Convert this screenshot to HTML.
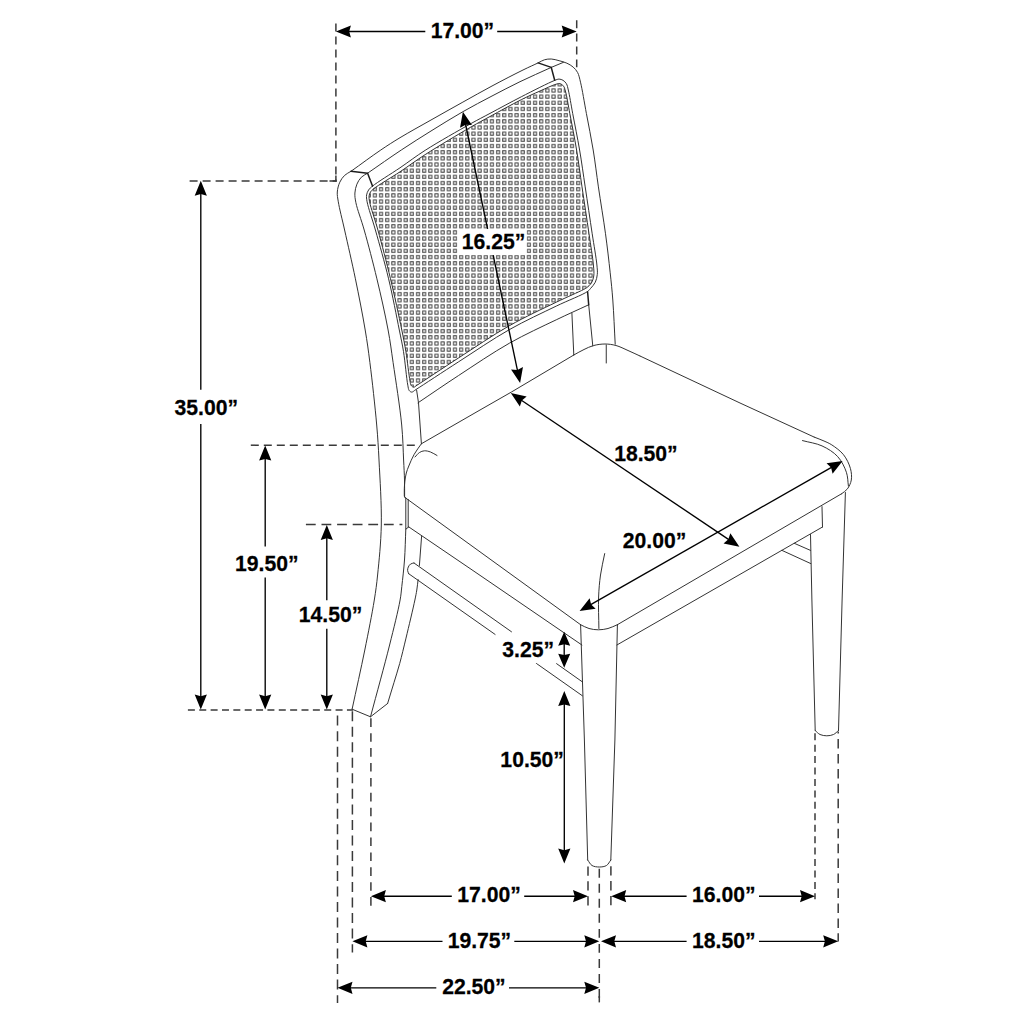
<!DOCTYPE html>
<html><head><meta charset="utf-8"><title>Chair dimensions</title>
<style>
html,body{margin:0;padding:0;background:#fff;}
body{width:1024px;height:1024px;overflow:hidden;font-family:"Liberation Sans",sans-serif;}
svg{display:block;}
svg text{font-family:"Liberation Sans",sans-serif;font-weight:bold;font-size:22px;fill:#000;stroke:#000;stroke-width:0.25px;}
</style></head><body>
<svg width="1024" height="1024" viewBox="0 0 1024 1024">
<defs>
<pattern id="cane" x="371.82" y="186.11" width="6.16" height="6.17" patternUnits="userSpaceOnUse">
<rect x="1.56" y="1.57" width="3.04" height="3.04" fill="none" stroke="#333" stroke-width="0.95"/>
</pattern>
<clipPath id="pc"><path d="M373.9 188.6 C378.42 184.95 391.41 177.49 400 171.8 C408.51 166.16 415.45 160.86 425.2 154.6 C438.13 146.3 459.08 133.83 471.1 126.9 C478.72 122.51 482.9 120.36 490 116.5 C499.1 111.55 512.1 104.28 521.25 99.7 C528.24 96.21 533.97 93.67 540 91 C545.55 88.54 552.51 85.17 556.1 84.2 C557.8 83.74 558.79 83.41 560 83.7 C561.26 84 562.62 84.98 563.5 86.1 C564.48 87.34 564.74 88.73 565.4 91 C566.77 95.74 568.19 105.09 569.8 113.5 C571.84 124.2 574.57 137.78 576.6 150 C578.64 162.25 580.07 173.87 582 186.9 C584.17 201.59 586.96 219.71 589 233.75 C590.66 245.21 592.73 257.23 593.4 265 C593.79 269.59 594.22 272.78 593.75 276 C593.36 278.64 592.63 281.02 591.4 283 C590.23 284.88 588.17 286.57 586.7 287.7 C585.62 288.53 585.17 288.68 583.6 289.5 C579.03 291.88 566.54 297.23 556.25 302.2 C542.68 308.75 525.11 316.81 509.4 325.7 C492.57 335.22 474.65 347.55 458.6 357.9 C444 367.32 423.11 381.35 417 385.2 C415.3 386.27 414.72 387.23 413.7 387.2 C412.8 387.18 411.81 386.35 411.2 385.5 C410.45 384.44 410.44 383.18 410 381 C408.89 375.51 407.39 360.63 405.9 351.6 C404.62 343.83 403.59 338.71 401.8 330 C399.04 316.54 394.53 295.63 390.5 278.8 C386.55 262.3 381.77 244.02 377.9 230 C374.94 219.29 370.71 207.74 369.6 201.8 C369.1 199.14 368.87 197.64 369.1 195.9 C369.29 194.44 369.75 193.18 370.5 192 C371.31 190.73 372.12 190.04 373.9 188.6Z"/></clipPath>
</defs>
<rect width="1024" height="1024" fill="#fff"/>
<g clip-path="url(#pc)"><rect x="340" y="60" width="280" height="350" fill="url(#cane)"/></g>
<g fill="none" stroke="#2e2e2e" stroke-width="0.98" stroke-linecap="round" stroke-linejoin="round">
<path d="M351 171.3 C348.87 172.67 346.44 173.64 344.6 175.4 C342.68 177.24 341 179.6 339.8 182.2 C338.48 185.06 337.54 188.71 337.3 192 C337.06 195.25 337.64 197.71 338.3 201.8 C339.43 208.8 342.22 219.32 344.6 230 C347.72 244.05 352 262.31 355.4 278.8 C358.87 295.64 362.65 314.84 365.2 330 C367.22 342.03 368.3 349.89 369.9 362.5 C372.11 379.94 375.14 407.15 376.7 425 C377.86 438.33 378.32 446.54 379 460 C379.93 478.33 381.69 504.76 381.3 525 C380.96 542.77 379.02 561.21 377.6 575 C376.59 584.78 375.87 590.26 374.3 600 C372.07 613.83 368.31 632.65 364.8 650 C360.97 668.92 356.33 689.47 352.1 709.2"/>
<path d="M351 171.3 C360.93 164.2 371.88 156.04 380.8 150 C387.83 145.24 392.77 142.07 400 137.7 C409.04 132.23 420.58 125.9 431 120 C441.55 114.03 452.5 107.89 462.9 102.1 C472.81 96.58 482.11 91.29 492 86 C502.13 80.58 514.47 74.2 523 70 C528.9 67.09 534.16 64.8 538.1 62.9 C540.66 61.67 542.2 60.45 544.4 59.8 C546.58 59.16 548.9 58.89 551.25 59 C553.79 59.12 556.5 60 559.1 60.7 C561.72 61.4 564.5 62.09 566.9 63.2 C569.18 64.25 571.4 65.52 573.2 67.1 C574.95 68.63 576.43 70.3 577.6 72.5 C579 75.15 579.48 78.01 580.5 82.2 C582.31 89.63 584.37 102.66 586.4 113.5 C588.59 125.2 591.2 137.78 593.2 150 C595.2 162.24 596.49 173.87 598.4 186.9 C600.55 201.59 603.47 218.83 605.5 233.75 C607.35 247.34 608.92 260.95 610.2 272.8 C611.27 282.68 612.04 289.83 612.8 300 C613.77 312.95 614.4 329.47 615.2 344.2"/>
<path d="M367.6 173.2 C378.83 165.47 390.36 157.26 401.3 150 C411.45 143.26 420.88 137.3 431 131 C441.4 124.53 452.44 117.68 462.9 111.7 C472.75 106.07 482.37 101.06 492 96 C501.4 91.07 510.36 86.37 520 81.7 C530.08 76.82 540.83 72.17 551.25 67.4"/>
<path d="M551.25 67.4 L563.5 62.3"/>
<path d="M367.6 173.2 C365.48 174.57 363.01 175.52 361.25 177.3 C359.42 179.15 357.95 181.66 356.9 184.2 C355.79 186.87 355.08 189.98 354.9 193 C354.71 196.14 355.09 198.7 355.9 202.7 C357.28 209.55 361.25 219.55 364.2 230 C368.12 243.89 372.95 262.3 376.9 278.8 C380.93 295.62 385.28 314.82 388.1 330 C390.34 342.02 391.26 349.9 393.1 362.5 C395.64 379.95 399.99 407.14 401.7 425 C402.98 438.32 403.1 449.95 403.6 460 C403.98 467.59 404.34 473.6 404.5 480 C404.65 485.9 404.57 491.33 404.6 497"/>
<path d="M405.8 529.2 C405.37 539.47 405.21 550.13 404.5 560 C403.84 569.18 402.64 579.15 401.8 586.5 C401.2 591.76 401.14 594.22 400.1 600 C398.19 610.65 393.77 628.29 389.6 645 C384.31 666.19 376.87 692.87 370.5 716.8"/>
<path d="M372.5 186.1 C377.42 182.07 391.06 173.88 400 167.8 C408.61 161.94 415.41 156.55 425.2 150.3 C438.09 142.08 459.09 130.21 471.1 123.5 C478.73 119.24 482.91 117.18 490 113.4 C499.11 108.55 510.61 102.23 521.25 96.8 C532.17 91.23 548.71 82.73 554.7 80.4 C556.8 79.58 557.68 79.09 559.1 79.1 C560.44 79.11 561.82 79.59 563 80.3 C564.28 81.07 565.54 82.26 566.4 83.7 C567.41 85.38 567.62 87.21 568.3 90 C569.6 95.32 571.06 104.81 572.7 113.5 C574.74 124.33 577.52 137.78 579.6 150 C581.69 162.25 583.24 173.87 585.2 186.9 C587.41 201.58 590.1 219.71 592.2 233.75 C593.92 245.22 596.19 257.61 596.9 265 C597.29 269.03 597.61 271.43 597.3 274.4 C597.01 277.14 596.43 279.85 595.3 282.2 C594.19 284.51 592.06 286.73 590.6 288.4 C589.51 289.66 589.24 290.28 587.5 291.5 C582.63 294.92 567.68 300.57 556.25 306.1 C542.17 312.92 525.11 320.71 509.4 329.6 C492.57 339.12 474.76 351.43 458.6 361.8 C443.75 371.34 422.86 385.19 416 389.5 C413.84 390.85 412.94 392.12 411.7 392.1 C410.75 392.09 409.83 391.36 409.2 390.5 C408.35 389.33 408.3 387.75 407.8 385.2 C406.56 378.86 405.1 361.54 403.5 351.6 C402.21 343.58 401.06 338.72 399.3 330 C396.59 316.55 392.63 295.6 388.6 278.8 C384.64 262.28 379.36 244.03 375.4 230 C372.38 219.3 368.24 208.06 367.1 201.8 C366.55 198.76 366.27 196.97 366.6 194.9 C366.89 193.09 367.63 191.46 368.6 190 C369.59 188.51 370.49 187.75 372.5 186.1Z"/>
<path d="M373.9 188.6 C378.42 184.95 391.41 177.49 400 171.8 C408.51 166.16 415.45 160.86 425.2 154.6 C438.13 146.3 459.08 133.83 471.1 126.9 C478.72 122.51 482.9 120.36 490 116.5 C499.1 111.55 512.1 104.28 521.25 99.7 C528.24 96.21 533.97 93.67 540 91 C545.55 88.54 552.51 85.17 556.1 84.2 C557.8 83.74 558.79 83.41 560 83.7 C561.26 84 562.62 84.98 563.5 86.1 C564.48 87.34 564.74 88.73 565.4 91 C566.77 95.74 568.19 105.09 569.8 113.5 C571.84 124.2 574.57 137.78 576.6 150 C578.64 162.25 580.07 173.87 582 186.9 C584.17 201.59 586.96 219.71 589 233.75 C590.66 245.21 592.73 257.23 593.4 265 C593.79 269.59 594.22 272.78 593.75 276 C593.36 278.64 592.63 281.02 591.4 283 C590.23 284.88 588.17 286.57 586.7 287.7 C585.62 288.53 585.17 288.68 583.6 289.5 C579.03 291.88 566.54 297.23 556.25 302.2 C542.68 308.75 525.11 316.81 509.4 325.7 C492.57 335.22 474.65 347.55 458.6 357.9 C444 367.32 423.11 381.35 417 385.2 C415.3 386.27 414.72 387.23 413.7 387.2 C412.8 387.18 411.81 386.35 411.2 385.5 C410.45 384.44 410.44 383.18 410 381 C408.89 375.51 407.39 360.63 405.9 351.6 C404.62 343.83 403.59 338.71 401.8 330 C399.04 316.54 394.53 295.63 390.5 278.8 C386.55 262.3 381.77 244.02 377.9 230 C374.94 219.29 370.71 207.74 369.6 201.8 C369.1 199.14 368.87 197.64 369.1 195.9 C369.29 194.44 369.75 193.18 370.5 192 C371.31 190.73 372.12 190.04 373.9 188.6Z"/>
<path d="M416.6 390.1 L418.5 402.8 L421.4 443.75"/>
<path d="M418 402.8 C431.53 393.7 444.25 384.89 458.6 375.5 C474.52 365.09 492.56 352.72 509.4 343.2 C525.1 334.32 542.02 326.64 556.25 319.8 C568.01 314.15 577.88 309.8 588.7 304.8"/>
<path d="M588.7 304.8 L592.8 346"/>
<path d="M571.9 313 L573.8 355"/>
<path d="M404.3 496 C404.3 493.67 404.21 491.41 404.3 489 C404.4 486.42 404.57 483.66 404.9 481 C405.23 478.33 405.63 475.55 406.3 473 C406.94 470.56 407.74 468.6 408.8 466 C410.2 462.57 412.09 458.02 414.2 454.3 C416.3 450.6 419 447.27 421.4 443.75"/>
<path d="M421.4 443.75 L480 410 L511.3 392.1 L573.8 355"/>
<path d="M573.8 355 C577.2 353.17 580.63 351.1 584 349.5 C587.16 348 590.04 346.51 593.4 345.6 C597 344.62 601.18 344 605 344 C608.72 344 612.32 344.5 616 345.5 C619.98 346.58 624.02 348.76 628 350.5 C632.02 352.26 636 354.17 640 356"/>
<path d="M640 356 L740 403 L814.2 437.1"/>
<path d="M814.2 437.1 C817.47 438.4 820.95 439.63 824 441 C826.78 442.24 829.05 443.1 831.8 444.9 C835.44 447.29 840.4 450.79 843.5 454.7 C846.61 458.62 849.15 463.9 850.4 468.4 C851.49 472.32 851.9 476.46 851.3 480 C850.75 483.24 849.17 486.54 847.4 488.9 C845.84 490.99 843.53 492.13 841.6 493.75"/>
<path d="M841.6 493.75 L617.4 624.7"/>
<path d="M617.4 624.7 C614.27 625.97 611.2 627.65 608 628.5 C604.87 629.33 601.58 629.8 598.4 629.8 C595.25 629.8 591.99 629.36 589 628.5 C586.06 627.65 583.4 625.97 580.6 624.7"/>
<path d="M580.6 624.7 L405.4 497.8"/>
<path d="M606.25 345 L606.25 363"/>
<path d="M802.5 440.6 C809 442.37 816.06 443.16 822 445.9 C827.76 448.55 833.61 452.11 837.7 456.6 C841.68 460.96 844.64 467.08 846.4 472.3 C847.95 476.88 847.73 481.43 848.4 486"/>
<path d="M604.7 553.6 C603.3 560.73 601.52 567.79 600.5 575 C599.48 582.26 598.91 589 598.6 597 C598.23 606.55 598.8 618 598.9 628.5"/>
<path d="M415 457 C416.5 455.5 417.84 453.54 419.5 452.5 C421 451.56 422.66 450.92 424.4 450.8 C426.31 450.67 428.49 451.28 430.5 452 C432.69 452.79 434.83 454.33 437 455.5"/>
<path d="M404.6 497 L405.8 497.8 L405.8 529.2 L408.75 526.9"/>
<path d="M408.2 499.5 L408.2 527"/>
<path d="M408.75 526.9 L470 568.5 L581.9 645"/>
<path d="M616.9 645 L822.5 527"/>
<path d="M822 506.6 L822.5 527"/>
<path d="M794.3 543.3 L810.5 550.4"/>
<path d="M782 550.4 L810.8 563.6"/>
<path d="M421.6 536.25 L419.4 565.5"/>
<path d="M418.1 579.6 C417.67 583.07 417.34 586.58 416.8 590 C416.27 593.37 415.83 595.6 414.9 600 C413.08 608.62 408.75 626.69 406 638.1 C403.75 647.43 401.84 655.67 399.7 663.5 C397.83 670.32 395.96 676.01 394 682.5 C391.94 689.33 389.73 696.5 387.6 703.5"/>
<path d="M352.1 709.2 L370.5 716.8 L387.6 703.5"/>
<path d="M414 563 L511.5 631.8"/>
<path d="M408.75 573.75 L495.5 634.7"/>
<path d="M414 563 C412.87 563.33 411.54 563.35 410.6 564 C409.63 564.67 408.8 565.9 408.3 567 C407.81 568.07 407.52 569.37 407.6 570.5 C407.68 571.61 408.37 572.67 408.75 573.75"/>
<path d="M556.5 663.6 L582.4 681.9"/>
<path d="M536.2 663.3 L582.4 695.8"/>
<path d="M580.6 624.7 L584.4 740 L587.7 860"/>
<path d="M617.4 624.7 L614.9 740 L610.8 860"/>
<path d="M587.7 860 C589.13 861.83 590.11 864.33 592 865.5 C593.95 866.71 596.88 867 599.3 867 C601.71 867 604.57 866.7 606.5 865.5 C608.38 864.33 609.37 861.83 610.8 860"/>
<path d="M845.4 492.5 L842.1 600 L838.5 730.5"/>
<path d="M810.5 534.5 L811.9 600 L815.2 730.5"/>
<path d="M815.2 730.5 C816.8 731.83 818.13 733.62 820 734.5 C821.97 735.43 824.54 735.8 826.8 735.8 C829.04 735.8 831.53 735.41 833.5 734.5 C835.41 733.62 836.83 731.83 838.5 730.5"/>
</g>
<g fill="none" stroke="#1c1c1c" stroke-width="1.5" stroke-linecap="round" stroke-linejoin="round">
<path d="M351 171.3 L367.6 173.2 L372.5 186.1"/>
<path d="M538.1 62.9 L551.25 67.4 L554.7 80.3"/>
<path d="M587.6 291.8 L588.7 304.8"/>
</g>
<g fill="none" stroke="#3a3a3a" stroke-width="1.5">
<path d="M335.9 23.4 L335.9 181.8" stroke-dasharray="8 5" stroke-dashoffset="0"/>
<path d="M576.7 20.3 L576.7 67.3" stroke-dasharray="8 5.1" stroke-dashoffset="0"/>
<path d="M189.6 180.9 L336.6 180.9" stroke-dasharray="8 5" stroke-dashoffset="0"/>
<path d="M187.9 709.9 L353.1 709.9" stroke-dasharray="7 4.36" stroke-dashoffset="0"/>
<path d="M250.8 445.2 L419.2 445.2" stroke-dasharray="8 5" stroke-dashoffset="0"/>
<path d="M305.9 524.6 L402.4 524.6" stroke-dasharray="9.8 5.8" stroke-dashoffset="0"/>
<path d="M337.5 715.6 L337.5 1003" stroke-dasharray="10 5.53" stroke-dashoffset="0"/>
<path d="M352.4 711.2 L352.4 952.4" stroke-dasharray="10 5.53" stroke-dashoffset="0"/>
<path d="M370.9 718.3 L370.9 905.9" stroke-dasharray="8.6 6.3" stroke-dashoffset="0"/>
<path d="M588 866.4 L588 905.7" stroke-dasharray="9.3 5.6" stroke-dashoffset="0"/>
<path d="M599.3 868.75 L599.3 1002.5" stroke-dasharray="8.9 6.14" stroke-dashoffset="0"/>
<path d="M610.9 866.2 L610.9 905.7" stroke-dasharray="9.3 5.6" stroke-dashoffset="0"/>
<path d="M815 733.2 L815 899.3" stroke-dasharray="7 4.44" stroke-dashoffset="0"/>
<path d="M838.2 731.6 L838.2 941.6" stroke-dasharray="9.5 5.45" stroke-dashoffset="7.55"/>
<path d="M335.9 175.4 L335.9 181.6 M329.5 180.9 L336.6 180.9"/>
<path d="M599.3 996 L599.3 1002.4"/>
</g>
<g fill="#fff" stroke="none">
<rect x="495.5" y="633.4" width="61.1" height="29.8"/>
<rect x="457.6" y="229.2" width="69" height="25.9"/>
</g>
<g fill="none" stroke="#000" stroke-width="1.35">
<path d="M348.2 31.5 L425.3 31.5"/>
<path d="M497.2 31.5 L564.4 31.5"/>
<path d="M200.8 193.1 L200.8 389.7"/>
<path d="M200.8 423.9 L200.8 697.2"/>
<path d="M265.2 457.9 L265.2 546.4"/>
<path d="M265.2 577.5 L265.2 697.2"/>
<path d="M326.8 537.3 L326.8 600.2"/>
<path d="M326.8 628.7 L326.8 697.2"/>
<path d="M383.2 896.2 L451.8 896.2"/>
<path d="M524.2 896.2 L575.7 896.2"/>
<path d="M623.5 896.2 L686.6 896.2"/>
<path d="M759 896.2 L802.7 896.2"/>
<path d="M364.7 941.3 L442.5 941.3"/>
<path d="M514.3 941.3 L587 941.3"/>
<path d="M613.3 941.3 L686.6 941.3"/>
<path d="M759 941.3 L825.9 941.3"/>
<path d="M349.8 987.8 L436.3 987.8"/>
<path d="M509 987.8 L587 987.8"/>
<path d="M564.2 643.3 L564.2 656.1"/>
<path d="M564.3 703.4 L564.3 851.3"/>
<path d="M465.44 123.74 L487.6 228.82"/>
<path d="M493.18 255.24 L517.56 370.86"/>
<path d="M521.01 399.96 L729.19 539.84"/>
<path d="M590.28 604.91 L831.92 467.09"/>
</g>
<g fill="#000" stroke="none">
<path d="M335.9 31.5 L350.9 25.4 L349.2 31.5 L350.9 37.6Z"/>
<path d="M576.7 31.5 L561.7 37.6 L563.4 31.5 L561.7 25.4Z"/>
<path d="M200.8 180.8 L206.9 195.8 L200.8 194.1 L194.7 195.8Z"/>
<path d="M200.8 709.5 L194.7 694.5 L200.8 696.2 L206.9 694.5Z"/>
<path d="M265.2 445.6 L271.3 460.6 L265.2 458.9 L259.1 460.6Z"/>
<path d="M265.2 709.5 L259.1 694.5 L265.2 696.2 L271.3 694.5Z"/>
<path d="M326.8 525 L332.9 540 L326.8 538.3 L320.7 540Z"/>
<path d="M326.8 709.5 L320.7 694.5 L326.8 696.2 L332.9 694.5Z"/>
<path d="M370.9 896.2 L385.9 890.1 L384.2 896.2 L385.9 902.3Z"/>
<path d="M588 896.2 L573 902.3 L574.7 896.2 L573 890.1Z"/>
<path d="M611.2 896.2 L626.2 890.1 L624.5 896.2 L626.2 902.3Z"/>
<path d="M815 896.2 L800 902.3 L801.7 896.2 L800 890.1Z"/>
<path d="M352.4 941.3 L367.4 935.2 L365.7 941.3 L367.4 947.4Z"/>
<path d="M599.3 941.3 L584.3 947.4 L586 941.3 L584.3 935.2Z"/>
<path d="M601 941.3 L616 935.2 L614.3 941.3 L616 947.4Z"/>
<path d="M838.2 941.3 L823.2 947.4 L824.9 941.3 L823.2 935.2Z"/>
<path d="M337.5 987.8 L352.5 981.7 L350.8 987.8 L352.5 993.9Z"/>
<path d="M599.3 987.8 L584.3 993.9 L586 987.8 L584.3 981.7Z"/>
<path d="M564.2 631.7 L570.2 645.7 L564.2 644.3 L558.2 645.7Z"/>
<path d="M564.2 667.7 L558.2 653.7 L564.2 655.1 L570.2 653.7Z"/>
<path d="M564.3 691.1 L570.4 706.1 L564.3 704.4 L558.2 706.1Z"/>
<path d="M564.3 863.6 L558.2 848.6 L564.3 850.3 L570.4 848.6Z"/>
<path d="M462.9 111.7 L471.96 125.12 L465.64 124.71 L460.03 127.64Z"/>
<path d="M520.1 382.9 L511.04 369.48 L517.36 369.89 L522.97 366.96Z"/>
<path d="M510.8 393.1 L526.65 396.4 L521.84 400.52 L519.85 406.53Z"/>
<path d="M739.4 546.7 L723.55 543.4 L728.36 539.28 L730.35 533.27Z"/>
<path d="M579.6 611 L589.61 598.27 L591.15 604.41 L595.65 608.87Z"/>
<path d="M842.6 461 L832.59 473.73 L831.05 467.59 L826.55 463.13Z"/>
</g>
<g>
<text transform="translate(430.67 38) scale(0.962 1)">17.00&#8221;</text>
<text transform="translate(174.51 415.1) scale(0.962 1)">35.00&#8221;</text>
<text transform="translate(235.07 570.6) scale(0.962 1)">19.50&#8221;</text>
<text transform="translate(298.77 621.7) scale(0.962 1)">14.50&#8221;</text>
<text transform="translate(457.27 902.4) scale(0.962 1)">17.00&#8221;</text>
<text transform="translate(692.07 902.4) scale(0.962 1)">16.00&#8221;</text>
<text transform="translate(447.67 947.8) scale(0.962 1)">19.75&#8221;</text>
<text transform="translate(692.07 947.8) scale(0.962 1)">18.50&#8221;</text>
<text transform="translate(442.17 993.9) scale(0.962 1)">22.50&#8221;</text>
<text transform="translate(502.31 656.7) scale(0.962 1)">3.25&#8221;</text>
<text transform="translate(500.37 766.6) scale(0.962 1)">10.50&#8221;</text>
<text transform="translate(461.77 249.2) scale(0.962 1)">16.25&#8221;</text>
<text transform="translate(614.17 460.5) scale(0.962 1)">18.50&#8221;</text>
<text transform="translate(622.77 548.1) scale(0.962 1)">20.00&#8221;</text>
</g>
</svg>
</body></html>
